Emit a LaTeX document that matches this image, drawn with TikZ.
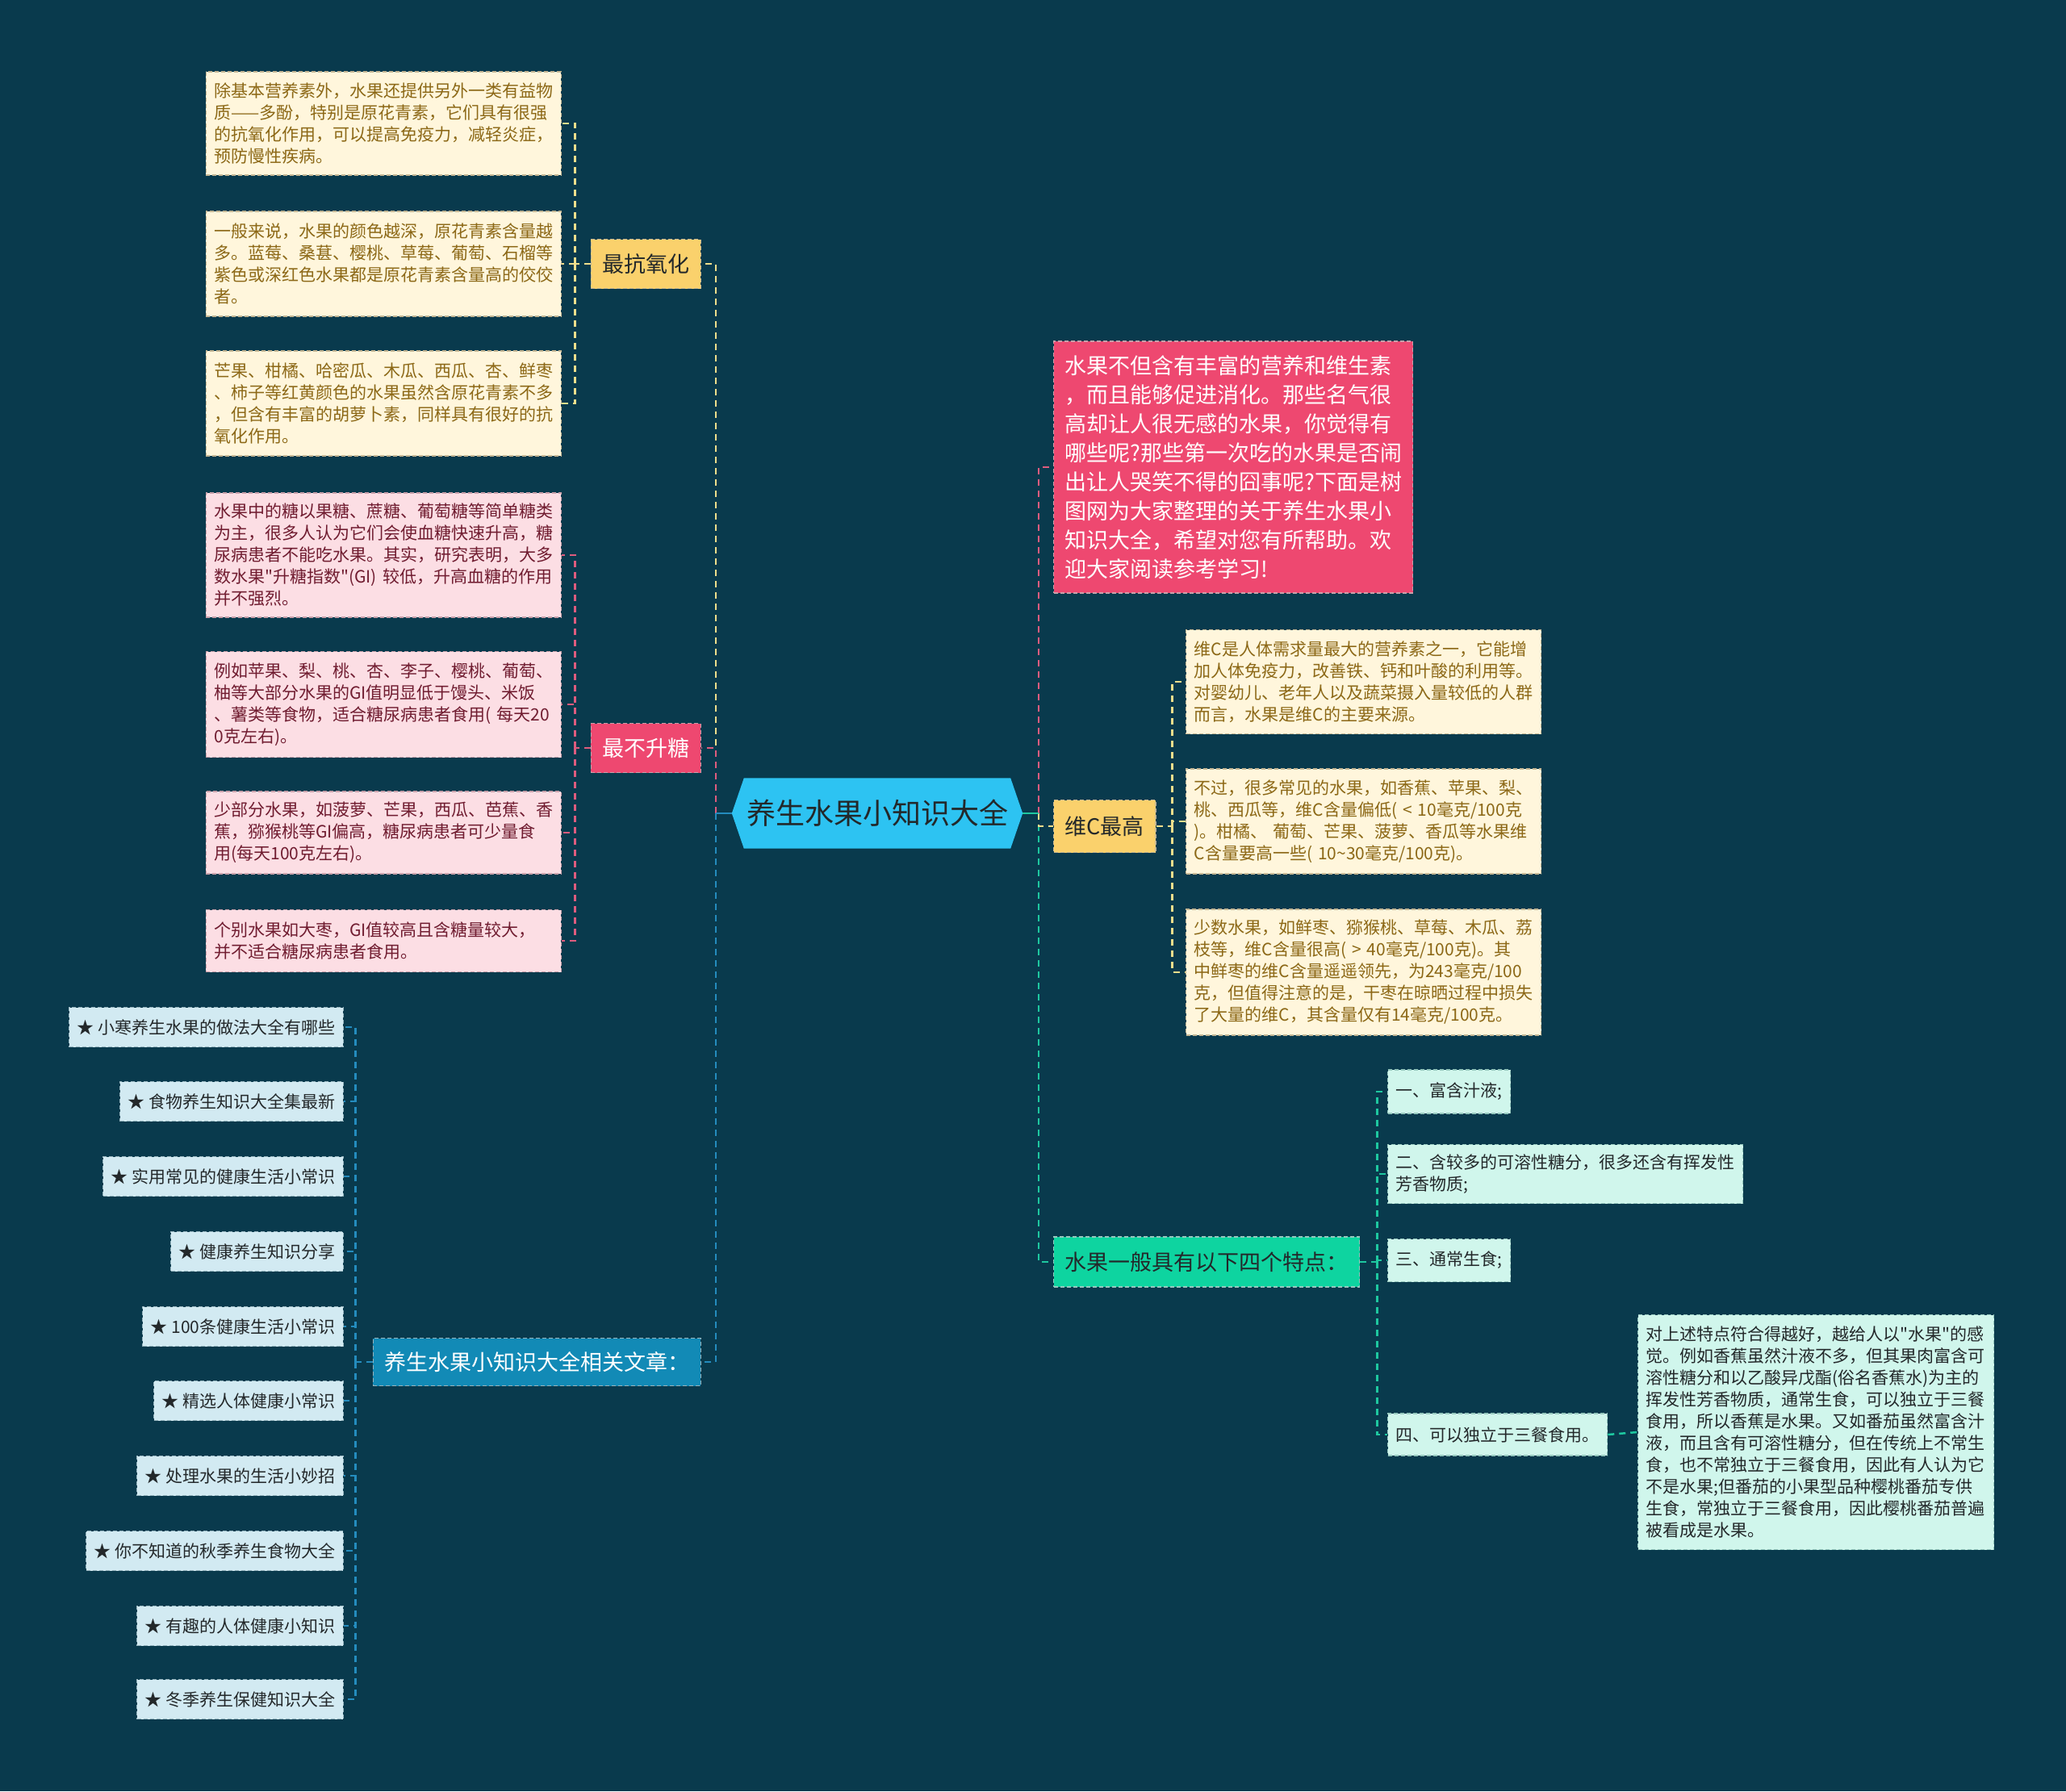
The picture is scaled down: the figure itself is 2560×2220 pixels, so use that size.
\documentclass[tikz,border=0pt]{standalone}
\usepackage{fontspec}
\setmainfont{Noto Sans CJK SC}[Ligatures=TeXOff]
\usetikzlibrary{backgrounds,calc}
\definecolor{bgc}{RGB}{9,58,77}
\definecolor{cfill}{RGB}{255,246,220}
\definecolor{cdraw}{RGB}{196,182,148}
\definecolor{ctext}{RGB}{140,104,22}
\definecolor{ynode}{RGB}{250,209,108}
\definecolor{yline}{RGB}{238,222,140}
\definecolor{pfill}{RGB}{252,222,228}
\definecolor{pdraw}{RGB}{200,160,170}
\definecolor{ptext}{RGB}{112,28,48}
\definecolor{pnode}{RGB}{238,72,112}
\definecolor{pline}{RGB}{222,92,126}
\definecolor{bnode}{RGB}{18,138,182}
\definecolor{bfill}{RGB}{210,234,242}
\definecolor{bdraw}{RGB}{150,180,190}
\definecolor{bline}{RGB}{36,140,190}
\definecolor{gnode}{RGB}{14,212,160}
\definecolor{gfill}{RGB}{208,246,236}
\definecolor{gdraw}{RGB}{150,200,190}
\definecolor{gline}{RGB}{30,200,160}
\definecolor{hexc}{RGB}{45,195,242}
\definecolor{darktext}{RGB}{35,40,42}
\tikzset{
  box/.style={draw, dash pattern=on 5pt off 3pt, line width=1.3pt, inner xsep=10pt, inner ysep=0pt, align=left},
  small/.style={font=\fontsize{21pt}{27pt}\selectfont},
  leafC/.style={box, small, fill=cfill, draw=cdraw, text=ctext, text width=420pt},
  leafP/.style={box, small, fill=pfill, draw=pdraw, text=ptext, text width=420pt},
  leafB/.style={box, small, fill=bfill, draw=bdraw, text=darktext, minimum height=49pt},
  leafG/.style={box, small, fill=gfill, draw=gdraw, text=darktext},
  branch/.style={draw, dash pattern=on 5pt off 3pt, line width=1.3pt, inner xsep=14pt, inner ysep=0pt,
     font=\fontsize{27pt}{34pt}\selectfont, minimum height=61pt},
  conn/.style={line width=2.5pt, dash pattern=on 8pt off 6pt},
  cY/.style={conn, draw=yline},
  cP/.style={conn, draw=pline},
  cB/.style={conn, draw=bline},
  cG/.style={conn, draw=gline},
}
\begin{document}
\begin{tikzpicture}[x=1pt,y=-1pt]
\begin{scope}[on background layer]
\fill[bgc] (0,0) rectangle (2560,2220);
\end{scope}
\useasboundingbox (0,0) rectangle (2560,2220);

% center
\node[minimum width=360pt, minimum height=87pt, inner sep=0pt, text=darktext,
  font=\fontsize{36pt}{40pt}\selectfont] (center) at (1087,1008) {养生水果小知识大全};
\begin{scope}[on background layer]
\fill[hexc] (center.west) -- ([xshift=15pt]center.north west) -- ([xshift=-15pt]center.north east)
  -- (center.east) -- ([xshift=-15pt]center.south east) -- ([xshift=15pt]center.south west) -- cycle;
\end{scope}

% ---------- left branches ----------
\node[branch, fill=ynode, draw=cdraw, text=darktext, anchor=east, minimum width=136pt] (anti) at (869,327) {最抗氧化};
\node[branch, fill=pnode, draw=pdraw, text=white, anchor=east, minimum width=136pt] (sugar) at (869,927) {最不升糖};
\node[branch, fill=bnode, draw=bdraw, text=white, anchor=east, minimum height=59pt] (rel) at (869,1688) {养生水果小知识大全相关文章：};

\node[leafC, anchor=east, minimum height=128pt] (a1) at (696,153) {除基本营养素外，水果还提供另外一类有益物\\质——多酚，特别是原花青素，它们具有很强\\的抗氧化作用，可以提高免疫力，减轻炎症，\\预防慢性疾病。};
\node[leafC, anchor=east, minimum height=130pt] (a2) at (696,327) {一般来说，水果的颜色越深，原花青素含量越\\多。蓝莓、桑葚、樱桃、草莓、葡萄、石榴等\\紫色或深红色水果都是原花青素含量高的佼佼\\者。};
\node[leafC, anchor=east, minimum height=130pt] (a3) at (696,500) {芒果、柑橘、哈密瓜、木瓜、西瓜、杏、鲜枣\\、柿子等红黄颜色的水果虽然含原花青素不多\\，但含有丰富的胡萝卜素，同样具有很好的抗\\氧化作用。};

\node[leafP, anchor=east, minimum height=154pt] (b1) at (696,688) {水果中的糖以果糖、蔗糖、葡萄糖等简单糖类\\为主，很多人认为它们会使血糖快速升高，糖\\尿病患者不能吃水果。其实，研究表明，大多\\数水果"升糖指数"(GI)~较低，升高血糖的作用\\并不强烈。};
\node[leafP, anchor=east, minimum height=131pt] (b2) at (696,873) {例如苹果、梨、桃、杏、李子、樱桃、葡萄、\\柚等大部分水果的GI值明显低于馒头、米饭\\、薯类等食物，适合糖尿病患者食用(~每天20\\0克左右)。};
\node[leafP, anchor=east, minimum height=102pt] (b3) at (696,1032) {少部分水果，如菠萝、芒果，西瓜、芭蕉、香\\蕉，猕猴桃等GI偏高，糖尿病患者可少量食\\用(每天100克左右)。};
\node[leafP, anchor=east, minimum height=77pt] (b4) at (696,1166) {个别水果如大枣，GI值较高且含糖量较大，\\并不适合糖尿病患者食用。};

\node[leafB, anchor=east] (r1) at (426,1273) {★ 小寒养生水果的做法大全有哪些};
\node[leafB, anchor=east] (r2) at (426,1365) {★ 食物养生知识大全集最新};
\node[leafB, anchor=east] (r3) at (426,1458) {★ 实用常见的健康生活小常识};
\node[leafB, anchor=east] (r4) at (426,1551) {★ 健康养生知识分享};
\node[leafB, anchor=east] (r5) at (426,1644) {★ 100条健康生活小常识};
\node[leafB, anchor=east] (r6) at (426,1736) {★ 精选人体健康小常识};
\node[leafB, anchor=east] (r7) at (426,1829) {★ 处理水果的生活小妙招};
\node[leafB, anchor=east] (r8) at (426,1922) {★ 你不知道的秋季养生食物大全};
\node[leafB, anchor=east] (r9) at (426,2015) {★ 有趣的人体健康小知识};
\node[leafB, anchor=east] (r10) at (426,2106) {★ 冬季养生保健知识大全};

% ---------- right branches ----------
\node[box, fill=pnode, draw=pdraw, text=white, anchor=west, inner xsep=14pt, text width=417pt,
  minimum height=312pt, font=\fontsize{27pt}{36pt}\selectfont] (intro) at (1305,579)
 {水果不但含有丰富的营养和维生素\\，而且能够促进消化。那些名气很\\高却让人很无感的水果，你觉得有\\哪些呢?那些第一次吃的水果是否闹\\出让人哭笑不得的囧事呢?下面是树\\图网为大家整理的关于养生水果小\\知识大全，希望对您有所帮助。欢\\迎大家阅读参考学习!};
\node[branch, fill=ynode, draw=cdraw, text=darktext, anchor=west, minimum height=65pt] (vc) at (1305,1024) {维C最高};
\node[branch, fill=gnode, draw=gdraw, text=darktext, anchor=west, minimum height=62pt] (feat) at (1305,1564) {水果一般具有以下四个特点：};

\node[leafC, anchor=west, minimum height=129pt] (c1) at (1469,845) {维C是人体需求量最大的营养素之一，它能增\\加人体免疫力，改善铁、钙和叶酸的利用等。\\对婴幼儿、老年人以及蔬菜摄入量较低的人群\\而言，水果是维C的主要来源。};
\node[leafC, anchor=west, minimum height=130pt] (c2) at (1469,1018) {不过，很多常见的水果，如香蕉、苹果、梨、\\桃、西瓜等，维C含量偏低(~<~10毫克/100克\\)。柑橘、~葡萄、芒果、菠萝、香瓜等水果维\\C含量要高一些(~10\symbol{"7E}30毫克/100克)。};
\node[leafC, anchor=west, minimum height=156pt] (c3) at (1469,1205) {少数水果，如鲜枣、猕猴桃、草莓、木瓜、荔\\枝等，维C含量很高(~>~40毫克/100克)。其\\中鲜枣的维C含量遥遥领先，为243毫克/100\\克，但值得注意的是，干枣在晾晒过程中损失\\了大量的维C，其含量仅有14毫克/100克。};

\node[leafG, anchor=west, minimum height=54pt] (d1) at (1719,1353) {一、富含汁液;};
\node[leafG, anchor=west, minimum height=73pt] (d2) at (1719,1455) {二、含较多的可溶性糖分，很多还含有挥发性\\芳香物质;};
\node[leafG, anchor=west, minimum height=53pt] (d3) at (1719,1562) {三、通常生食;};
\node[leafG, anchor=west, minimum height=52pt] (d4) at (1719,1778) {四、可以独立于三餐食用。};
\node[leafG, anchor=west, text width=421pt, minimum height=291pt] (d5) at (2029,1775) {对上述特点符合得越好，越给人以"水果"的感\\觉。例如香蕉虽然汁液不多，但其果肉富含可\\溶性糖分和以乙酸异戊酯(俗名香蕉水)为主的\\挥发性芳香物质，通常生食，可以独立于三餐\\食用，所以香蕉是水果。又如番茄虽然富含汁\\液，而且含有可溶性糖分，但在传统上不常生\\食，也不常独立于三餐食用，因此有人认为它\\不是水果;但番茄的小果型品种樱桃番茄专供\\生食，常独立于三餐食用，因此樱桃番茄普遍\\被看成是水果。};

% ---------- connectors ----------
\coordinate (LT) at (887,1008);
\coordinate (RT) at (1287,1008);
\coordinate (aJ) at ([xshift=-19pt]anti.west);
\coordinate (sJ) at ([xshift=-19pt]sugar.west);
\coordinate (rJ) at ([xshift=-21pt]rel.west);
\coordinate (cJ) at ([xshift=20pt]vc.east);
\coordinate (dJ) at ([xshift=21pt]feat.east);

\draw[cY] (LT) |- (anti.east);
\draw[cB] (LT) |- (rel.east);
\draw[cP] (LT) |- (sugar.east);
\draw[line width=2.5pt, bline] (center.west) -- (LT);

\draw[cG] (RT) |- (feat.west);
\draw[cY] (RT) |- (vc.west);
\draw[cP] (RT) |- (intro.west);
\draw[line width=2.5pt, gline] (center.east) -- (RT);

\draw[cY] (anti.west) -- (aJ);
\foreach \n in {a1,a2,a3} \draw[cY] (aJ) |- (\n.east);
\draw[cP] (sugar.west) -- (sJ);
\foreach \n in {b1,b2,b3,b4} \draw[cP] (sJ) |- (\n.east);
\draw[cB] (rel.west) -- (rJ);
\foreach \n in {r1,r2,r3,r4,r5,r6,r7,r8,r9,r10} \draw[cB] (rJ) |- (\n.east);
\draw[cY] (vc.east) -- (cJ);
\foreach \n in {c1,c2,c3} \draw[cY] (cJ) |- (\n.west);
\draw[cG] (feat.east) -- (dJ);
\foreach \n in {d1,d2,d3,d4} \draw[cG] (dJ) |- (\n.west);
\draw[cG] (d4.east) -- (d5.west);
\end{tikzpicture}
\end{document}
